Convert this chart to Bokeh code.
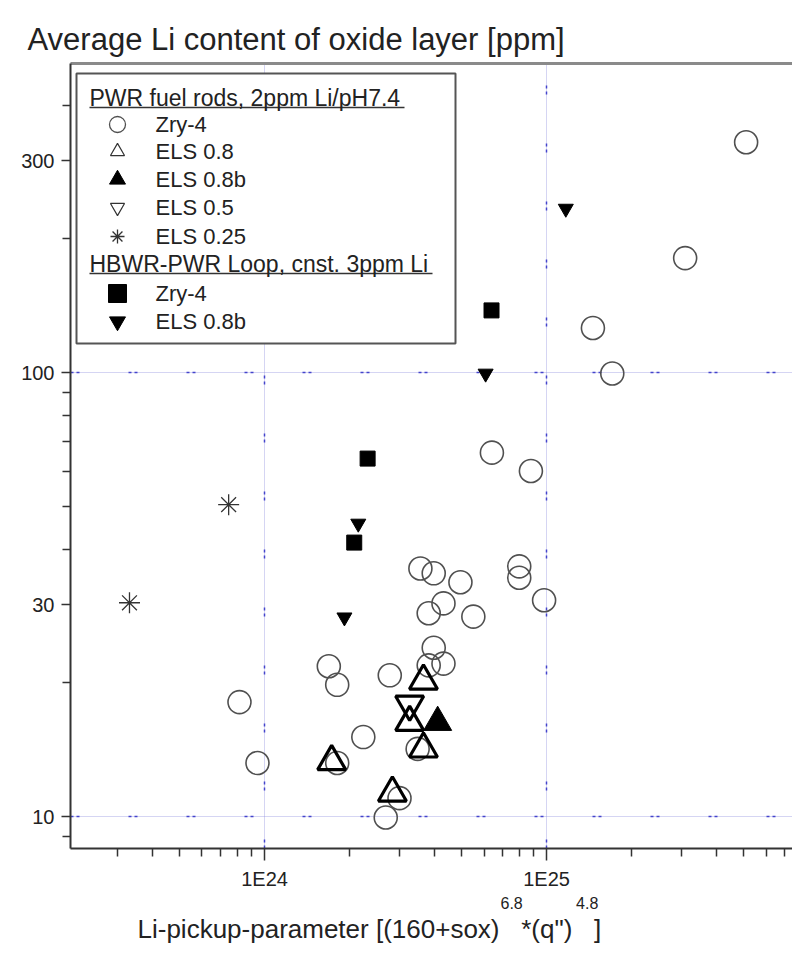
from bokeh.plotting import figure
from bokeh.models import Range1d, LogAxis, FixedTicker, CustomJSTickFormatter, Grid, Label, Title
from bokeh.embed import file_html
from bokeh.resources import INLINE

# ---------------- data ----------------
pwr_zry4_x = [5.1e25, 3.1e25, 1.46e25, 1.71e25, 6.4e24, 8.8e24, 3.57e24, 3.98e24, 4.95e24, 4.31e24,
              3.82e24, 5.5e24, 8.0e24, 8.0e24, 9.8e24, 3.98e24, 4.31e24, 3.82e24, 2.78e24, 1.69e24,
              1.81e24, 8.15e23, 9.44e23, 2.24e24, 1.81e24, 3.49e24, 3.01e24, 2.69e24]
pwr_zry4_y = [330, 181, 126, 99.5, 66, 60, 36.2, 35.3, 33.7, 30.2,
              28.7, 28.2, 36.6, 34.5, 30.7, 24.0, 22.1, 21.9, 20.8, 21.8,
              19.8, 18.1, 13.2, 15.1, 13.2, 14.2, 11.0, 9.95]
els08_x = [1.73e24, 2.84e24, 3.66e24, 3.27e24, 3.66e24]
els08_y = [13.3, 11.3, 20.2, 16.3, 14.2]
els08b_x = [4.11e24]
els08b_y = [16.3]
els05_x = [3.27e24]
els05_y = [17.9]
els025_x = [7.46e23, 3.32e23]
els025_y = [50.4, 30.3]
hbwr_zry4_x = [6.38e24, 2.32e24, 2.08e24]
hbwr_zry4_y = [138, 64, 41.4]
hbwr_els08b_x = [1.17e25, 6.08e24, 2.15e24, 1.92e24]
hbwr_els08b_y = [234, 99.5, 45.7, 28.1]

x_major = [1e24, 1e25]
x_minor = [m * 1e23 for m in range(3, 10)] + [m * 1e24 for m in range(2, 10)] + [m * 1e25 for m in range(2, 8)]
y_major = [10, 30, 100, 300]
y_minor = [9, 20, 40, 50, 60, 70, 80, 90, 200, 400]
x_grid = [1e24, 1e25]
y_grid = [10, 100]

title_text = "Average Li content of oxide layer [ppm]"
NB = "\u00a0"
xlabel_main = "Li-pickup-parameter [(160+sox)" + NB * 3 + "*(q\")" + NB * 3 + "]"
xlabel_sups = "6.8" + NB * 12 + "4.8"
legend_head1 = "PWR fuel rods, 2ppm Li/pH7.4"
legend_head2 = "HBWR-PWR Loop, cnst. 3ppm Li"
legend_names1 = ["Zry-4", "ELS 0.8", "ELS 0.8b", "ELS 0.5", "ELS 0.25"]
legend_names2 = ["Zry-4", "ELS 0.8b"]

# ---------------- layout ----------------
W, H = 792, 958
FL, FR, FT, FB = 70, 792, 63, 848
XL0, XL1 = 23.312, 25.872
YL0, YL1 = 0.928, 2.696
FONT = "Liberation Sans"


def dx(px):
    return 10 ** (XL0 + (px - FL) / (FR - FL) * (XL1 - XL0))


def dy(py):
    return 10 ** (YL0 + (FB - py) / (FB - FT) * (YL1 - YL0))


p = figure(width=W, height=H, x_axis_type="log", y_axis_type="log",
           x_range=Range1d(10 ** XL0, 10 ** XL1), y_range=Range1d(10 ** YL0, 10 ** YL1),
           output_backend="svg", toolbar_location=None,
           min_border_left=FL, min_border_right=W - FR, min_border_top=FT, min_border_bottom=H - FB)
p.outline_line_color = None
p.background_fill_color = "white"
p.border_fill_color = "white"

xa = p.xaxis[0]
xa.ticker = FixedTicker(ticks=x_major, minor_ticks=x_minor)
xa.formatter = CustomJSTickFormatter(code="return '1E' + Math.round(Math.log10(tick));")
xa.major_tick_out = 12
xa.major_tick_in = 0
xa.minor_tick_out = 8
xa.minor_tick_in = 0
for a in (xa, p.yaxis[0]):
    a.axis_line_width = 2
    a.axis_line_color = "#333333"
    a.major_tick_line_color = "#333333"
    a.minor_tick_line_color = "#333333"
    a.major_tick_line_width = 1.5
    a.minor_tick_line_width = 1.5
    a.major_label_text_font = FONT
    a.major_label_text_font_size = "20px"
    a.major_label_text_color = "#222222"
    a.major_label_standoff = 7
ya = p.yaxis[0]
ya.ticker = FixedTicker(ticks=y_major, minor_ticks=y_minor)
ya.formatter = CustomJSTickFormatter(code="return String(Math.round(tick));")
ya.major_tick_out = 9
ya.major_tick_in = 0
ya.minor_tick_out = 8
ya.minor_tick_in = 0

top_axis = LogAxis(axis_line_color="#8a8a8a", axis_line_width=3,
                   ticker=FixedTicker(ticks=[]),
                   formatter=CustomJSTickFormatter(code="return '';"),
                   major_tick_line_color=None, minor_tick_line_color=None,
                   major_tick_out=0, minor_tick_out=0)
p.add_layout(top_axis, "above")

# chart title (outer "above" panel) and x-axis label rows ("below" panels)
p.add_layout(Title(text=title_text, align="left", offset=27 - FL, text_font=FONT,
                   text_font_size="31px", text_font_style="normal", text_color="#222222",
                   vertical_align="top", standoff=10), "above")
p.add_layout(Title(text=xlabel_sups, align="left", offset=500 - FL, text_font=FONT,
                   text_font_size="16px", text_font_style="normal", text_color="#222222",
                   standoff=0), "below")
p.add_layout(Title(text=xlabel_main, align="left", offset=137 - FL, text_font=FONT,
                   text_font_size="26px", text_font_style="normal", text_color="#222222",
                   standoff=0), "below")

p.xgrid[0].ticker = FixedTicker(ticks=x_grid)
p.ygrid[0].ticker = FixedTicker(ticks=y_grid)
for g in (p.xgrid[0], p.ygrid[0]):
    g.grid_line_color = "#8888dd"
    g.grid_line_alpha = 0.35
    g.grid_line_width = 1
p.add_layout(Grid(dimension=0, ticker=FixedTicker(ticks=x_grid), grid_line_color="#4444cc",
                  grid_line_dash="3 3 3 49", grid_line_width=1.5))
p.add_layout(Grid(dimension=1, ticker=FixedTicker(ticks=y_grid), grid_line_color="#4444cc",
                  grid_line_dash="3 3 3 49", grid_line_width=1.5))

p.scatter(pwr_zry4_x, pwr_zry4_y, marker="circle", size=23, fill_color=None,
          line_color="#505050", line_width=1.6)
p.scatter(els025_x, els025_y, marker="asterisk", size=21, line_color="#333333", line_width=1.3)
p.scatter(hbwr_zry4_x, hbwr_zry4_y, marker="square", size=15, fill_color="black", line_color="black")
p.scatter(hbwr_els08b_x, hbwr_els08b_y, marker="inverted_triangle", size=15,
          fill_color="black", line_color="black")
p.scatter(els08_x, els08_y, marker="triangle", size=28, fill_color=None, line_color="black", line_width=3.2)
p.scatter(els05_x, els05_y, marker="inverted_triangle", size=28, fill_color=None,
          line_color="black", line_width=3.2)
p.scatter(els08b_x, els08b_y, marker="triangle", size=28, fill_color="black", line_color="black")

# legend (drawn by hand)
LB_L, LB_R, LB_T, LB_B = 76, 455, 73, 343
p.quad(left=[dx(LB_L)], right=[dx(LB_R)], top=[dy(LB_T)], bottom=[dy(LB_B)],
       fill_color="white", line_color="#555555", line_width=2)
MX, TX, HX = 117, 155, 89
rows1 = [124, 151, 179, 207, 236]
rows2 = [293, 321]
H1Y, H2Y = 97, 263
p.segment(x0=[dx(HX), dx(HX)], x1=[dx(404), dx(432)], y0=[dy(107), dy(273)], y1=[dy(107), dy(273)],
          line_color="#333333", line_width=1.5)
p.scatter([dx(MX)], [dy(rows1[0])], marker="circle", size=16, fill_color=None, line_color="#505050", line_width=1.3)
p.scatter([dx(MX)], [dy(rows1[1])], marker="triangle", size=14, fill_color=None, line_color="#333333", line_width=1.2)
p.scatter([dx(MX)], [dy(rows1[2])], marker="triangle", size=16, fill_color="black", line_color="black")
p.scatter([dx(MX)], [dy(rows1[3])], marker="inverted_triangle", size=14, fill_color=None, line_color="#333333", line_width=1.2)
p.scatter([dx(MX)], [dy(rows1[4])], marker="asterisk", size=14, line_color="#333333", line_width=1.3)
p.scatter([dx(MX)], [dy(rows2[0])], marker="square", size=18, fill_color="black", line_color="black")
p.scatter([dx(MX)], [dy(rows2[1])], marker="inverted_triangle", size=16, fill_color="black", line_color="black")


def add_label(px, py, text, size):
    # px, py: left edge and vertical centre of the text, in page pixels (inside the frame)
    p.add_layout(Label(x=px - FL, y=FB - py, x_units="screen", y_units="screen", text=text,
                       text_font=FONT, text_font_size=size, text_baseline="middle",
                       text_align="left", text_color="#222222"))


add_label(HX, H1Y, legend_head1, "23px")
add_label(HX, H2Y, legend_head2, "23px")
for name, ry in zip(legend_names1, rows1):
    add_label(TX, ry, name, "22px")
for name, ry in zip(legend_names2, rows2):
    add_label(TX, ry, name, "22px")

open("out.html", "w").write(file_html(p, INLINE))
